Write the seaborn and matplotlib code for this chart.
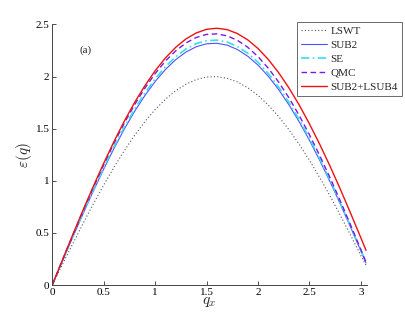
import matplotlib
matplotlib.use("Agg")
import matplotlib.pyplot as plt
import seaborn as sns
import pandas as pd

qx = [0.0, 0.1, 0.2, 0.3, 0.4, 0.5, 0.6, 0.7, 0.8, 0.9, 1.0, 1.1, 1.2, 1.3, 1.4, 1.5,
      1.6, 1.7, 1.8, 1.9, 2.0, 2.1, 2.2, 2.3, 2.4, 2.5, 2.6, 2.7, 2.8, 2.9, 3.0, 3.05]

lswt = [0, 0.200, 0.397, 0.591, 0.779, 0.959, 1.129, 1.288, 1.435, 1.567, 1.683, 1.782,
        1.864, 1.927, 1.971, 1.995, 1.999, 1.983, 1.948, 1.893, 1.819, 1.726, 1.617, 1.491,
        1.351, 1.197, 1.031, 0.855, 0.670, 0.478, 0.282, 0.19]
sub2 = [0, 0.232, 0.461, 0.686, 0.903, 1.112, 1.310, 1.495, 1.665, 1.817, 1.952, 2.067,
        2.162, 2.235, 2.286, 2.314, 2.319, 2.301, 2.259, 2.195, 2.110, 2.003, 1.876, 1.730,
        1.567, 1.389, 1.196, 0.992, 0.778, 0.555, 0.328, 0.212]
se = [0, 0.235, 0.467, 0.694, 0.915, 1.126, 1.327, 1.514, 1.686, 1.841, 1.977, 2.094,
      2.190, 2.264, 2.316, 2.344, 2.349, 2.331, 2.288, 2.224, 2.137, 2.029, 1.900, 1.753,
      1.588, 1.407, 1.212, 1.005, 0.788, 0.563, 0.332, 0.216]
qmc = [0, 0.241, 0.479, 0.712, 0.938, 1.155, 1.361, 1.553, 1.729, 1.888, 2.028, 2.148,
       2.246, 2.322, 2.375, 2.404, 2.409, 2.390, 2.347, 2.281, 2.191, 2.080, 1.948, 1.797,
       1.628, 1.442, 1.242, 1.030, 0.807, 0.576, 0.340, 0.22]
sub2_lsub4 = [0, 0.243, 0.484, 0.720, 0.948, 1.167, 1.376, 1.571, 1.750, 1.911, 2.055, 2.178,
              2.280, 2.361, 2.418, 2.453, 2.463, 2.450, 2.412, 2.352, 2.269, 2.164, 2.038,
              1.892, 1.728, 1.546, 1.350, 1.141, 0.920, 0.689, 0.453, 0.333]

series = ["LSWT", "SUB2", "SE", "QMC", "SUB2+LSUB4"]
values = [lswt, sub2, se, qmc, sub2_lsub4]

sns.set_style("ticks")
plt.rcParams["font.family"] = ["Liberation Serif", "DejaVu Serif"]
plt.rcParams["mathtext.fontset"] = "cm"

fig = plt.figure(figsize=(4.05, 3.21), dpi=100)
ax = fig.add_axes([0.129, 0.112, 0.776, 0.812])

styles = {
    "LSWT": dict(color="#555555", linestyle=(0, (1, 2)), lw=0.8),
    "SUB2": dict(color="#5050ff", linestyle="-", lw=0.8),
    "SE": dict(color="#33e0ee", linestyle=(0, (5, 2, 1, 2)), lw=1.2),
    "QMC": dict(color="#7a1ae6", linestyle=(0, (4, 2.5)), lw=1.0),
    "SUB2+LSUB4": dict(color="#ee1111", linestyle="-", lw=1.0),
}

for name, vals in zip(series, values):
    df = pd.DataFrame({"qx": qx, "eps": vals})
    st = styles[name]
    sns.lineplot(data=df, x="qx", y="eps", ax=ax, color=st["color"],
                 linestyle=st["linestyle"], linewidth=st["lw"], label=name)

ax.set_xlim(0, 3.055)
ax.set_ylim(0, 2.5)
ax.set_xticks([0, 0.5, 1, 1.5, 2, 2.5, 3])
ax.set_xticklabels(["0", "0.5", "1", "1.5", "2", "2.5", "3"])
ax.set_yticks([0, 0.5, 1, 1.5, 2, 2.5])
ax.set_yticklabels(["0", "0.5", "1", "1.5", "2", "2.5"])
ax.tick_params(direction="in", length=3, width=0.6, labelsize=8, colors="#333333",
               labelcolor="black", pad=2)
for s in ["top", "right"]:
    ax.spines[s].set_visible(False)
for s in ["left", "bottom"]:
    ax.spines[s].set_color("#444444")
    ax.spines[s].set_linewidth(0.7)

ax.set_xlabel(r"$q_x$", fontsize=11, labelpad=-1)
ax.set_ylabel(r"$\varepsilon(q)$", fontsize=11, labelpad=1)
ax.text(0.32, 2.25, "(a)", fontsize=8, ha="center", va="center")

leg = ax.legend(loc="upper left",
                bbox_to_anchor=(296.7 / 405, 1 - 22.3 / 321),
                bbox_transform=fig.transFigure, fontsize=8, frameon=True,
                fancybox=False, edgecolor="#444444", handlelength=2.4,
                handletextpad=0.3, borderpad=0.35, labelspacing=0.38, borderaxespad=0)
leg.get_frame().set_linewidth(0.7)

fig.savefig("out.png", dpi=100)
